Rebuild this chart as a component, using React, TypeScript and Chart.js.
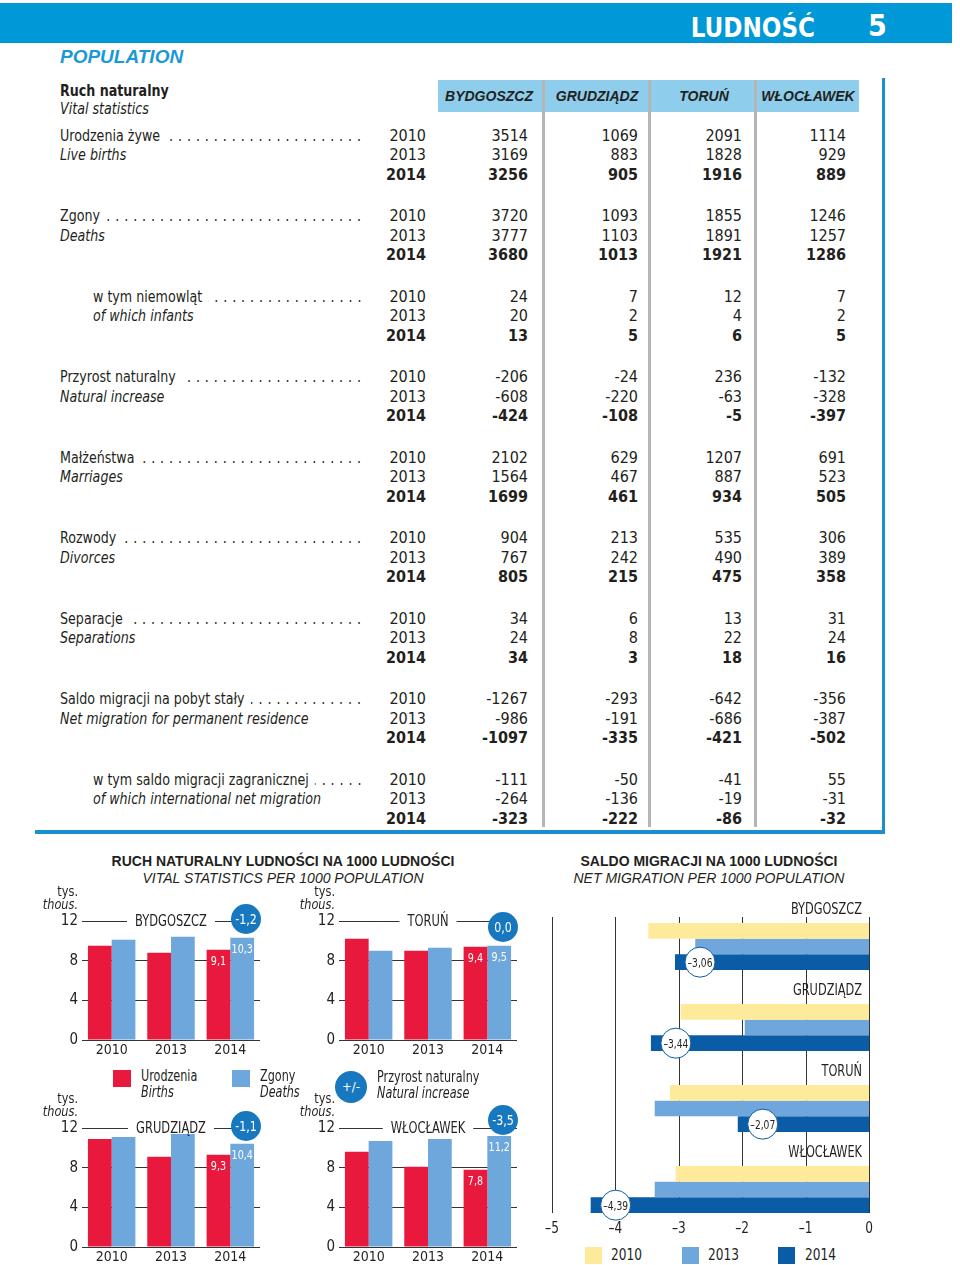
import React, { useEffect, useRef } from "react";
import { Chart, registerables } from "chart.js";

Chart.register(...registerables);

const NARROW = '"Liberation Sans Narrow", "DejaVu Sans Condensed", "Arial Narrow", sans-serif';
const WIDE = '"Liberation Sans", Arial, Helvetica, sans-serif';
const INK = "#231f20";

// ---------- table data ----------
const cities = ["BYDGOSZCZ", "GRUDZIĄDZ", "TORUŃ", "WŁOCŁAWEK"];
const tableYears = ["2010", "2013", "2014"];
const rowLabelsPl = [
  "Urodzenia żywe",
  "Zgony",
  "w tym niemowląt",
  "Przyrost naturalny",
  "Małżeństwa",
  "Rozwody",
  "Separacje",
  "Saldo migracji na pobyt stały",
  "w tym saldo migracji zagranicznej",
];
const rowLabelsEn = [
  "Live births",
  "Deaths",
  "of which infants",
  "Natural increase",
  "Marriages",
  "Divorces",
  "Separations",
  "Net migration for permanent residence",
  "of which international net migration",
];
const rowIndented = [false, false, true, false, false, false, false, false, true];
const liveBirths = [[3514, 1069, 2091, 1114], [3169, 883, 1828, 929], [3256, 905, 1916, 889]];
const deaths = [[3720, 1093, 1855, 1246], [3777, 1103, 1891, 1257], [3680, 1013, 1921, 1286]];
const infantDeaths = [[24, 7, 12, 7], [20, 2, 4, 2], [13, 5, 6, 5]];
const naturalIncrease = [[-206, -24, 236, -132], [-608, -220, -63, -328], [-424, -108, -5, -397]];
const marriages = [[2102, 629, 1207, 691], [1564, 467, 887, 523], [1699, 461, 934, 505]];
const divorces = [[904, 213, 535, 306], [767, 242, 490, 389], [805, 215, 475, 358]];
const separations = [[34, 6, 13, 31], [24, 8, 22, 24], [34, 3, 18, 16]];
const netMigration = [[-1267, -293, -642, -356], [-986, -191, -686, -387], [-1097, -335, -421, -502]];
const intlMigration = [[-111, -50, -41, 55], [-264, -136, -19, -31], [-323, -222, -86, -32]];

// ---------- vital statistics per 1000 ----------
const chartYears = ["2010", "2013", "2014"];
const vitalTicks = [0, 4, 8, 12];
const birthsBydgoszcz = [9.5, 8.8, 9.1];
const deathsBydgoszcz = [10.1, 10.4, 10.3];
const birthsTorun = [10.2, 9.0, 9.4];
const deathsTorun = [9.0, 9.3, 9.5];
const birthsGrudziadz = [10.9, 9.1, 9.3];
const deathsGrudziadz = [11.1, 11.4, 10.4];
const birthsWloclawek = [9.6, 8.1, 7.8];
const deathsWloclawek = [10.7, 10.9, 11.2];
const increase2014 = [-1.2, 0.0, -1.1, -3.5]; // Bydgoszcz, Toruń, Grudziądz, Włocławek

// ---------- net migration per 1000 ----------
const migCities = ["BYDGOSZCZ", "GRUDZIĄDZ", "TORUŃ", "WŁOCŁAWEK"];
const migYears = ["2010", "2013", "2014"];
const mig2010 = [-3.48, -2.97, -3.14, -3.05];
const mig2013 = [-2.74, -1.96, -3.38, -3.38];
const mig2014 = [-3.06, -3.44, -2.07, -4.39];
const migTicks = [-5, -4, -3, -2, -1, 0];

const RED = "#e8193c";
const LBLUE = "#6ea7dc";
const CIRCLE = "#1878bf";
const YELLOW = "#fdeb9b";
const MBLUE = "#6fa6dc";
const DBLUE = "#0b5ca6";

const fmt1 = (v: number) => v.toFixed(1).replace(".", ",");
const fmt2 = (v: number) => v.toFixed(2).replace(".", ",").replace("-", "\u2013");
const fmtTick = (v: number) => (v < 0 ? "\u2013" + Math.abs(v) : String(v));

function narrowText(ctx: any, text: string, x: number, y: number, sx: number) {
  ctx.save();
  ctx.translate(x, y);
  ctx.scale(sx, 1);
  ctx.fillText(text, 0, 0);
  ctx.restore();
}

function T({ x, y, children, size = 16, weight = 400, italic = false, align = "left", color = INK, family = NARROW, sx = 1 }: any) {
  const style: any = {
    position: "absolute",
    top: y - size * 0.59,
    fontSize: size,
    lineHeight: `${size * 1.2}px`,
    fontWeight: weight,
    fontStyle: italic ? "italic" : "normal",
    color,
    fontFamily: family,
    whiteSpace: "nowrap",
  };
  if (align === "left") {
    style.left = x;
    style.transformOrigin = "left center";
  } else if (align === "right") {
    style.left = x - 500;
    style.width = 500;
    style.textAlign = "right";
    style.transformOrigin = "right center";
  } else {
    style.left = x - 300;
    style.width = 600;
    style.textAlign = "center";
    style.transformOrigin = "center center";
  }
  if (sx !== 1) style.transform = `scaleX(${sx})`;
  return <div style={style}>{children}</div>;
}

function Leader({ x, y, label, end, sx }: any) {
  const size = 16;
  return (
    <div
      style={{
        position: "absolute",
        left: x,
        top: y - size * 0.59,
        width: (end - x) / sx,
        display: "flex",
        fontFamily: NARROW,
        fontSize: size,
        lineHeight: `${size * 1.2}px`,
        whiteSpace: "nowrap",
        color: INK,
        transform: `scaleX(${sx})`,
        transformOrigin: "left center",
      }}
    >
      <span style={{ paddingRight: 7 }}>{label}</span>
      <span style={{ flex: 1, overflow: "hidden", direction: "rtl", letterSpacing: "5.6px" }}>{".".repeat(90)}</span>
    </div>
  );
}

function VitalChart({ left, top, city, births, deaths, balance, circleDy }: any) {
  const ref = useRef<HTMLCanvasElement>(null);
  useEffect(() => {
    const decor = {
      id: "decor",
      afterDatasetsDraw(chart: any) {
        const { ctx, chartArea: a } = chart;
        ctx.save();
        ctx.textBaseline = "middle";
        ctx.textAlign = "center";
        ctx.fillStyle = "#ffffff";
        ctx.font = `13px ${NARROW}`;
        [0, 1].forEach((d) => {
          const meta = chart.getDatasetMeta(d);
          const last = meta.data.length - 1;
          const el = meta.data[last];
          const v = chart.data.datasets[d].data[last];
          narrowText(ctx, fmt1(v), el.x, el.y + 12, 0.82);
        });
        ctx.fillStyle = INK;
        ctx.textAlign = "right";
        ctx.font = `14px ${NARROW}`;
        narrowText(ctx, "tys.", a.left - 4, a.top - 29, 0.9);
        ctx.font = `italic 14px ${NARROW}`;
        narrowText(ctx, "thous.", a.left - 4, a.top - 16, 0.9);
        ctx.font = `15px ${NARROW}`;
        ctx.textAlign = "center";
        const cx = (a.left + a.right) / 2;
        const w = ctx.measureText(city).width * 0.85;
        ctx.fillStyle = "#ffffff";
        ctx.fillRect(cx - w / 2 - 8, a.top - 2, w + 16, 4);
        ctx.fillStyle = INK;
        narrowText(ctx, city, cx, a.top + 1, 0.85);
        const bx = a.right - 14;
        const by = a.top + circleDy;
        ctx.beginPath();
        ctx.arc(bx, by, 15, 0, Math.PI * 2);
        ctx.fillStyle = CIRCLE;
        ctx.fill();
        ctx.fillStyle = "#ffffff";
        ctx.font = `14px ${NARROW}`;
        narrowText(ctx, fmt1(balance), bx, by + 1, 0.88);
        ctx.restore();
      },
    };
    const chart = new Chart(ref.current as HTMLCanvasElement, {
      type: "bar",
      data: {
        labels: chartYears,
        datasets: [
          { label: "Urodzenia", data: births, backgroundColor: RED, categoryPercentage: 0.8, barPercentage: 1 },
          { label: "Zgony", data: deaths, backgroundColor: LBLUE, categoryPercentage: 0.8, barPercentage: 1 },
        ],
      },
      options: {
        animation: false,
        responsive: false,
        layout: { padding: { top: 41, right: 6, left: 0, bottom: 0 } },
        plugins: { legend: { display: false }, tooltip: { enabled: false } },
        scales: {
          x: {
            grid: { display: false, drawTicks: false },
            border: { display: false },
            ticks: { color: INK, font: { family: NARROW, size: 14 }, padding: 2 },
            afterFit: (s: any) => {
              s.height = 24;
            },
          },
          y: {
            min: 0,
            max: 12,
            afterBuildTicks: (s: any) => {
              s.ticks = vitalTicks.map((v) => ({ value: v }));
            },
            ticks: { color: INK, font: { family: NARROW, size: 15 }, padding: 4 },
            grid: { color: "#333333", lineWidth: 1, drawTicks: false },
            border: { display: false },
            afterFit: (s: any) => {
              s.width = 42;
            },
          },
        },
      } as any,
      plugins: [decor],
    });
    return () => chart.destroy();
  }, []);
  return <canvas ref={ref} width={226} height={184} style={{ position: "absolute", left, top }} />;
}

function MigrationChart({ left, top }: any) {
  const ref = useRef<HTMLCanvasElement>(null);
  useEffect(() => {
    const decor = {
      id: "migDecor",
      beforeDatasetsDraw(chart: any) {
        const { ctx, chartArea: a } = chart;
        const xs = chart.scales.x;
        ctx.save();
        ctx.strokeStyle = "#333333";
        ctx.lineWidth = 1;
        migTicks.forEach((v) => {
          const x = Math.round(xs.getPixelForValue(v)) + 0.5;
          ctx.beginPath();
          ctx.moveTo(x, a.top + 11);
          ctx.lineTo(x, a.bottom - 17);
          ctx.stroke();
        });
        ctx.restore();
      },
      afterDatasetsDraw(chart: any) {
        const { ctx, chartArea: a } = chart;
        const xs = chart.scales.x;
        ctx.save();
        ctx.textBaseline = "middle";
        const m0 = chart.getDatasetMeta(0);
        ctx.fillStyle = INK;
        ctx.textAlign = "right";
        ctx.font = `15px ${NARROW}`;
        m0.data.forEach((el: any, i: number) => {
          narrowText(ctx, migCities[i], a.right - 7, el.y - el.height / 2 - 13, 0.84);
        });
        const m2 = chart.getDatasetMeta(2);
        m2.data.forEach((el: any, i: number) => {
          const cx = el.x + 25;
          const cy = el.y;
          ctx.beginPath();
          ctx.arc(cx, cy, 15, 0, Math.PI * 2);
          ctx.fillStyle = "#ffffff";
          ctx.fill();
          ctx.strokeStyle = DBLUE;
          ctx.lineWidth = 1;
          ctx.stroke();
          ctx.fillStyle = INK;
          ctx.textAlign = "center";
          ctx.font = `13px ${NARROW}`;
          narrowText(ctx, fmt2(mig2014[i]), cx, cy + 1, 0.78);
        });
        ctx.font = `15px ${NARROW}`;
        ctx.textAlign = "center";
        migTicks.forEach((v) => {
          narrowText(ctx, fmtTick(v), xs.getPixelForValue(v), a.bottom - 1, 0.9);
        });
        ctx.restore();
      },
    };
    const chart = new Chart(ref.current as HTMLCanvasElement, {
      type: "bar",
      data: {
        labels: migCities,
        datasets: [
          { label: migYears[0], data: mig2010, backgroundColor: YELLOW },
          { label: migYears[1], data: mig2013, backgroundColor: MBLUE },
          { label: migYears[2], data: mig2014, backgroundColor: DBLUE },
        ],
      },
      options: {
        indexAxis: "y",
        animation: false,
        responsive: false,
        layout: { padding: { left: 22, right: 11, top: 16, bottom: 12 } },
        datasets: { bar: { categoryPercentage: 0.58, barPercentage: 1 } },
        plugins: { legend: { display: false }, tooltip: { enabled: false } },
        scales: {
          x: { display: false, min: -5, max: 0 },
          y: { display: false },
        },
      } as any,
      plugins: [decor],
    });
    return () => chart.destroy();
  }, []);
  return <canvas ref={ref} width={350} height={352} style={{ position: "absolute", left, top }} />;
}

const allRows = [liveBirths, deaths, infantDeaths, naturalIncrease, marriages, divorces, separations, netMigration, intlMigration];
const valueRight = [528, 638, 742, 846];
const cityCenters = [489, 597, 704, 808];
const separatorsX = [541.5, 647.5, 753.5];
const LABEL_SX = 0.88;
const LEGEND_SX = 0.83;

export default function App() {
  return (
    <div
      style={{
        position: "absolute",
        left: 0,
        top: 0,
        width: 960,
        height: 1265,
        background: "#ffffff",
        overflow: "hidden",
        fontFamily: NARROW,
        color: INK,
      }}
    >
      {/* header bar */}
      <div style={{ position: "absolute", left: 0, top: 3, width: 952, height: 40, background: "#0098d6" }} />
      <T x={815} y={28} size={27} weight={700} align="right" color="#ffffff" sx={0.95}>LUDNOŚĆ</T>
      <T x={868} y={26} size={30} weight={700} color="#ffffff">5</T>
      <T x={60} y={57} size={19} weight={700} italic color="#1b99d6" family={WIDE}>POPULATION</T>

      {/* table header */}
      <T x={60} y={90} size={16} weight={700} sx={LABEL_SX}>Ruch naturalny</T>
      <T x={60} y={108} size={16} italic sx={LABEL_SX}>Vital statistics</T>
      <div style={{ position: "absolute", left: 438, top: 80, width: 421, height: 32, background: "#8ecdeb" }} />
      {separatorsX.map((x) => (
        <div key={x} style={{ position: "absolute", left: x, top: 80, width: 3, height: 747, background: "#b5b5b5" }} />
      ))}
      {cities.map((c, i) => (
        <T key={c} x={cityCenters[i]} y={96} size={14} weight={700} italic align="center" family={WIDE}>
          {c}
        </T>
      ))}
      <div style={{ position: "absolute", left: 882, top: 78, width: 3, height: 755, background: "#1b8ecd" }} />
      <div style={{ position: "absolute", left: 35, top: 830, width: 850, height: 4, background: "#1b8ecd" }} />

      {/* table body */}
      {allRows.map((rows, g) => {
        const y0 = 135 + g * 80.5;
        const lx = rowIndented[g] ? 93 : 60;
        return (
          <React.Fragment key={g}>
            <Leader x={lx} y={y0} label={rowLabelsPl[g]} end={366} sx={LABEL_SX} />
            <T x={lx} y={y0 + 19.5} italic sx={LABEL_SX}>
              {rowLabelsEn[g]}
            </T>
            {tableYears.map((yr, i) => (
              <React.Fragment key={yr}>
                <T x={426} y={y0 + i * 19.5} align="right" weight={i === 2 ? 700 : 400}>
                  {yr}
                </T>
                {rows[i].map((v, c) => (
                  <T key={c} x={valueRight[c]} y={y0 + i * 19.5} align="right" weight={i === 2 ? 700 : 400}>
                    {String(v)}
                  </T>
                ))}
              </React.Fragment>
            ))}
          </React.Fragment>
        );
      })}

      {/* lower section titles */}
      <T x={283} y={861} size={14} weight={700} align="center" family={WIDE}>RUCH NATURALNY LUDNOŚCI NA 1000 LUDNOŚCI</T>
      <T x={283} y={878} size={14} italic align="center" family={WIDE}>VITAL STATISTICS PER 1000 POPULATION</T>
      <T x={709} y={861} size={14} weight={700} align="center" family={WIDE}>SALDO MIGRACJI NA 1000 LUDNOŚCI</T>
      <T x={709} y={878} size={14} italic align="center" family={WIDE}>NET MIGRATION PER 1000 POPULATION</T>

      <VitalChart left={40} top={880} city="BYDGOSZCZ" births={birthsBydgoszcz} deaths={deathsBydgoszcz} balance={increase2014[0]} circleDy={-2} />
      <VitalChart left={297} top={880} city="TORUŃ" births={birthsTorun} deaths={deathsTorun} balance={increase2014[1]} circleDy={6} />
      <VitalChart left={40} top={1087} city="GRUDZIĄDZ" births={birthsGrudziadz} deaths={deathsGrudziadz} balance={increase2014[2]} circleDy={-2} />
      <VitalChart left={297} top={1087} city="WŁOCŁAWEK" births={birthsWloclawek} deaths={deathsWloclawek} balance={increase2014[3]} circleDy={-8} />

      {/* vital legend */}
      <div style={{ position: "absolute", left: 113, top: 1070, width: 18, height: 17, background: RED }} />
      <T x={141} y={1076} size={15} sx={LEGEND_SX}>Urodzenia</T>
      <T x={141} y={1092} size={15} italic sx={LEGEND_SX}>Births</T>
      <div style={{ position: "absolute", left: 232, top: 1070, width: 18, height: 17, background: LBLUE }} />
      <T x={260} y={1076} size={15} sx={LEGEND_SX}>Zgony</T>
      <T x={260} y={1092} size={15} italic sx={LEGEND_SX}>Deaths</T>
      <div
        style={{
          position: "absolute",
          left: 335,
          top: 1071,
          width: 32,
          height: 32,
          borderRadius: 16,
          background: CIRCLE,
          color: "#ffffff",
          fontFamily: NARROW,
          fontSize: 13,
          lineHeight: "32px",
          textAlign: "center",
        }}
      >
        +/-
      </div>
      <T x={377} y={1077} size={15} sx={LEGEND_SX}>Przyrost naturalny</T>
      <T x={377} y={1093} size={15} italic sx={LEGEND_SX}>Natural increase</T>

      <MigrationChart left={530} top={890} />

      {/* migration legend */}
      <div style={{ position: "absolute", left: 585, top: 1247, width: 17, height: 17, background: YELLOW }} />
      <T x={611} y={1255} size={15} sx={0.9}>{migYears[0]}</T>
      <div style={{ position: "absolute", left: 682, top: 1247, width: 17, height: 17, background: MBLUE }} />
      <T x={708} y={1255} size={15} sx={0.9}>{migYears[1]}</T>
      <div style={{ position: "absolute", left: 778, top: 1247, width: 17, height: 17, background: DBLUE }} />
      <T x={805} y={1255} size={15} sx={0.9}>{migYears[2]}</T>
    </div>
  );
}
